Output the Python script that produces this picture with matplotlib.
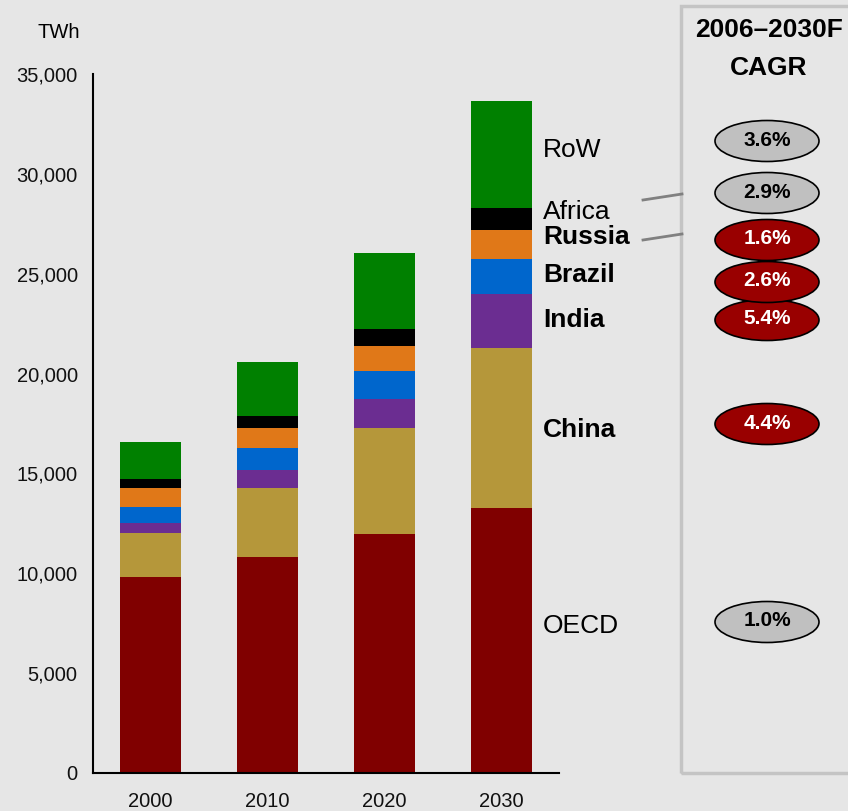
import numpy as np
import matplotlib.pyplot as plt
from matplotlib.patches import Ellipse, Rectangle

plt.rcParams['font.family'] = ['Liberation Sans', 'DejaVu Sans']

years = ['2000', '2010', '2020', '2030']
regions = ['OECD', 'China', 'India', 'Brazil', 'Russia', 'Africa', 'RoW']
oecd = [9800, 10800, 11950, 13250]
china = [2200, 3450, 5300, 8050]
india = [500, 900, 1500, 2700]
brazil = [800, 1100, 1400, 1750]
russia = [950, 1000, 1250, 1450]
africa = [450, 650, 850, 1100]
row = [1850, 2700, 3800, 5350]
cagr = ['1.0%', '4.4%', '5.4%', '2.6%', '1.6%', '2.9%', '3.6%']

series = [oecd, china, india, brazil, russia, africa, row]
colors = ['#800000', '#b5973a', '#6b2d91', '#0066cc', '#e07818', '#000000', '#008000']
bold = [False, True, True, True, True, False, False]

W, H = 848, 811
bg = '#e6e6e6'

def fx(x):
  return x / W

def fy(y):
  return 1 - y / H

fig = plt.figure(figsize=(W / 100, H / 100), dpi=100, facecolor=bg)
ax = fig.add_axes([fx(93), fy(773), 466 / W, 699 / H])
ax.set_facecolor(bg)

x = np.arange(len(years))
bottom = np.zeros(len(years))
for vals, c in zip(series, colors):
  ax.bar(x, vals, width=0.52, bottom=bottom, color=c, linewidth=0)
  bottom += np.array(vals)

ax.set_xlim(-0.49, 3.49)
ax.set_ylim(0, 35000)
ax.set_yticks(np.arange(0, 35001, 5000))
ax.set_yticklabels(['{:,}'.format(v) for v in range(0, 35001, 5000)])
ax.set_xticks(x)
ax.set_xticklabels(years)
ax.tick_params(axis='both', length=0, labelsize=14.5, labelcolor='#111111')
ax.tick_params(axis='y', pad=11)
ax.tick_params(axis='x', pad=14)
for s in ['top', 'right']:
  ax.spines[s].set_visible(False)
for s in ['left', 'bottom']:
  ax.spines[s].set_linewidth(1.5)

fig.text(fx(59), fy(33), 'TWh', fontsize=14.5, ha='center', va='center')

# region names to the right of the last bar
label_y = [626, 430, 320, 275, 237, 212, 150]
for name, ly, b in zip(regions, label_y, bold):
  fig.text(fx(543), fy(ly), name, fontsize=19, ha='left', va='center',
           fontweight='bold' if b else 'normal')

# leader lines for Africa and Russia
fig.add_artist(plt.Line2D([fx(643), fx(682)], [fy(200), fy(194)],
                          transform=fig.transFigure, color='#808080', lw=2))
fig.add_artist(plt.Line2D([fx(643), fx(682)], [fy(240), fy(234)],
                          transform=fig.transFigure, color='#808080', lw=2))

# CAGR panel
fig.add_artist(Rectangle((fx(681), fy(773)), (920 - 681) / W, (773 - 6) / H,
                         transform=fig.transFigure, fill=False,
                         edgecolor='#c4c4c4', lw=2.5))
fig.text(fx(769), fy(30), '2006–2030F', fontsize=19, fontweight='bold',
         ha='center', va='center')
fig.text(fx(769), fy(68), 'CAGR', fontsize=19, fontweight='bold',
         ha='center', va='center')

ell_y = [622, 424, 320, 282, 240, 193, 141]
for val, ey, b in zip(cagr, ell_y, bold):
  fc = '#990000' if b else '#c0c0c0'
  tc = 'white' if b else 'black'
  fig.add_artist(Ellipse((fx(767), fy(ey)), 104 / W, 41 / H,
                         transform=fig.transFigure, facecolor=fc,
                         edgecolor='black', lw=1.2))
  fig.text(fx(767), fy(ey - 1), val, fontsize=15, fontweight='bold', color=tc,
           ha='center', va='center')

fig.savefig('out.png', dpi=100, facecolor=bg)
